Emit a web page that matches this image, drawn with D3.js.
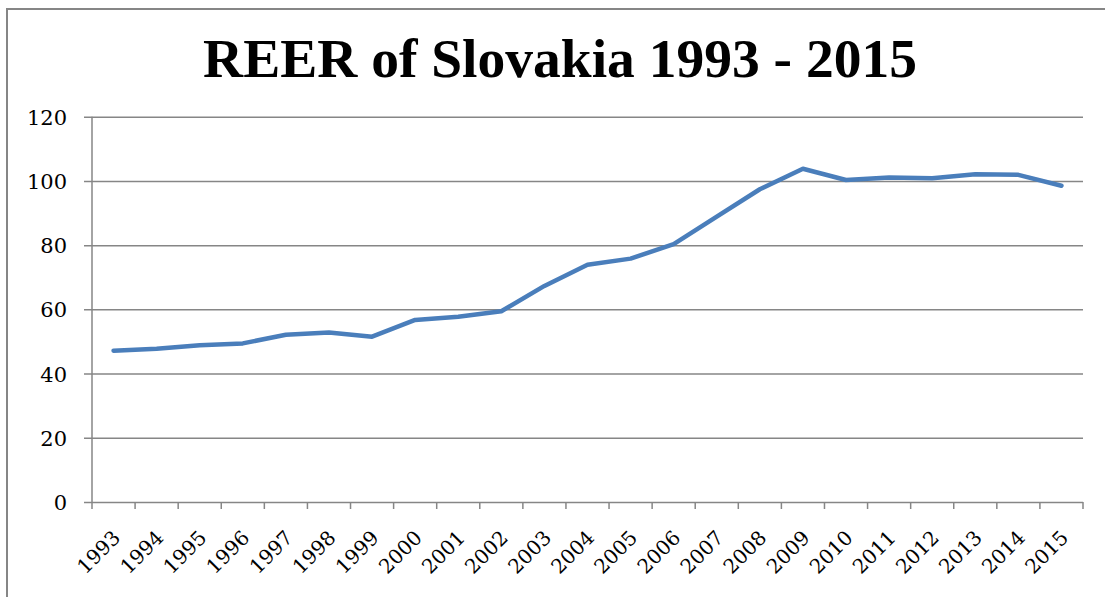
<!DOCTYPE html>
<html>
<head>
<meta charset="utf-8">
<script src="https://cdn.jsdelivr.net/npm/d3@7"></script>
<style>
  html, body { margin: 0; padding: 0; background: #fff; }
  svg { display: block; }
</style>
</head>
<body>
<svg id="chart" width="1105" height="597"></svg>
<script>
const years = ["1993","1994","1995","1996","1997","1998","1999","2000","2001","2002","2003","2004","2005","2006","2007","2008","2009","2010","2011","2012","2013","2014","2015"];
const reer = [47.1,47.7,48.8,49.4,52.1,52.8,51.5,56.7,57.7,59.4,67.3,73.9,75.8,80.3,88.9,97.4,103.8,100.3,101.1,100.8,102.1,101.9,98.5];
const yTicks = [0,20,40,60,80,100,120];
const title = "REER of Slovakia 1993 - 2015";

const W = 1105, H = 597;
const plot = { left: 92, right: 1083, top: 116.7, bottom: 502 };
const svg = d3.select("#chart");
const gridColor = "#868686";

// outer chart border
svg.append("rect")
  .attr("x", 7).attr("y", 9)
  .attr("width", W + 20).attr("height", H + 20)
  .attr("fill", "none").attr("stroke", gridColor).attr("stroke-width", 2);

const x = d3.scaleBand().domain(years).range([plot.left, plot.right]);
const y = d3.scaleLinear().domain([0, 120]).range([plot.bottom, plot.top]);

// gridlines + y tick marks
const yAxis = d3.axisLeft(y).tickValues(yTicks).tickSize(-(plot.right - plot.left)).tickPadding(16).tickFormat(d3.format("d"));
const gy = svg.append("g").attr("transform", `translate(${plot.left},0)`).call(yAxis);
gy.select(".domain").remove();
gy.selectAll(".tick line")
  .attr("x1", -8)
  .attr("stroke", gridColor).attr("stroke-width", 1.5);
gy.selectAll(".tick text")
  .attr("font-family", "DejaVu Serif")
  .attr("font-size", 21)
  .attr("fill", "#000")
  .attr("x", -25)
  .attr("dy", "0.36em");

// vertical axis line
svg.append("line")
  .attr("x1", plot.left).attr("x2", plot.left)
  .attr("y1", plot.top).attr("y2", plot.bottom)
  .attr("stroke", gridColor).attr("stroke-width", 1.5);

// x axis tick marks at band boundaries
const bounds = years.map(d => x(d)).concat([x(years[years.length - 1]) + x.bandwidth()]);
svg.append("g").selectAll("line").data(bounds).join("line")
  .attr("x1", d => d).attr("x2", d => d)
  .attr("y1", plot.bottom).attr("y2", plot.bottom + 7)
  .attr("stroke", gridColor).attr("stroke-width", 1.5);

// x labels
svg.append("g").selectAll("text").data(years).join("text")
  .attr("transform", d => `translate(${x(d) + x.bandwidth() / 2 + 8},${539}) rotate(-45)`)
  .attr("text-anchor", "end")
  .attr("font-family", "DejaVu Serif")
  .attr("font-size", 20)
  .attr("fill", "#000")
  .text(d => d);

// line
const line = d3.line()
  .x((d, i) => x(years[i]) + x.bandwidth() / 2)
  .y(d => y(d));
svg.append("path")
  .datum(reer)
  .attr("d", line)
  .attr("fill", "none")
  .attr("stroke", "#4a7ebb")
  .attr("stroke-width", 4.5)
  .attr("stroke-linejoin", "round")
  .attr("stroke-linecap", "round");

// title
svg.append("text")
  .attr("x", 560).attr("y", 77)
  .attr("text-anchor", "middle")
  .attr("font-family", "Liberation Serif")
  .attr("font-weight", "bold")
  .attr("font-size", 55.5)
  .attr("fill", "#000")
  .text(title);
</script>
</body>
</html>
